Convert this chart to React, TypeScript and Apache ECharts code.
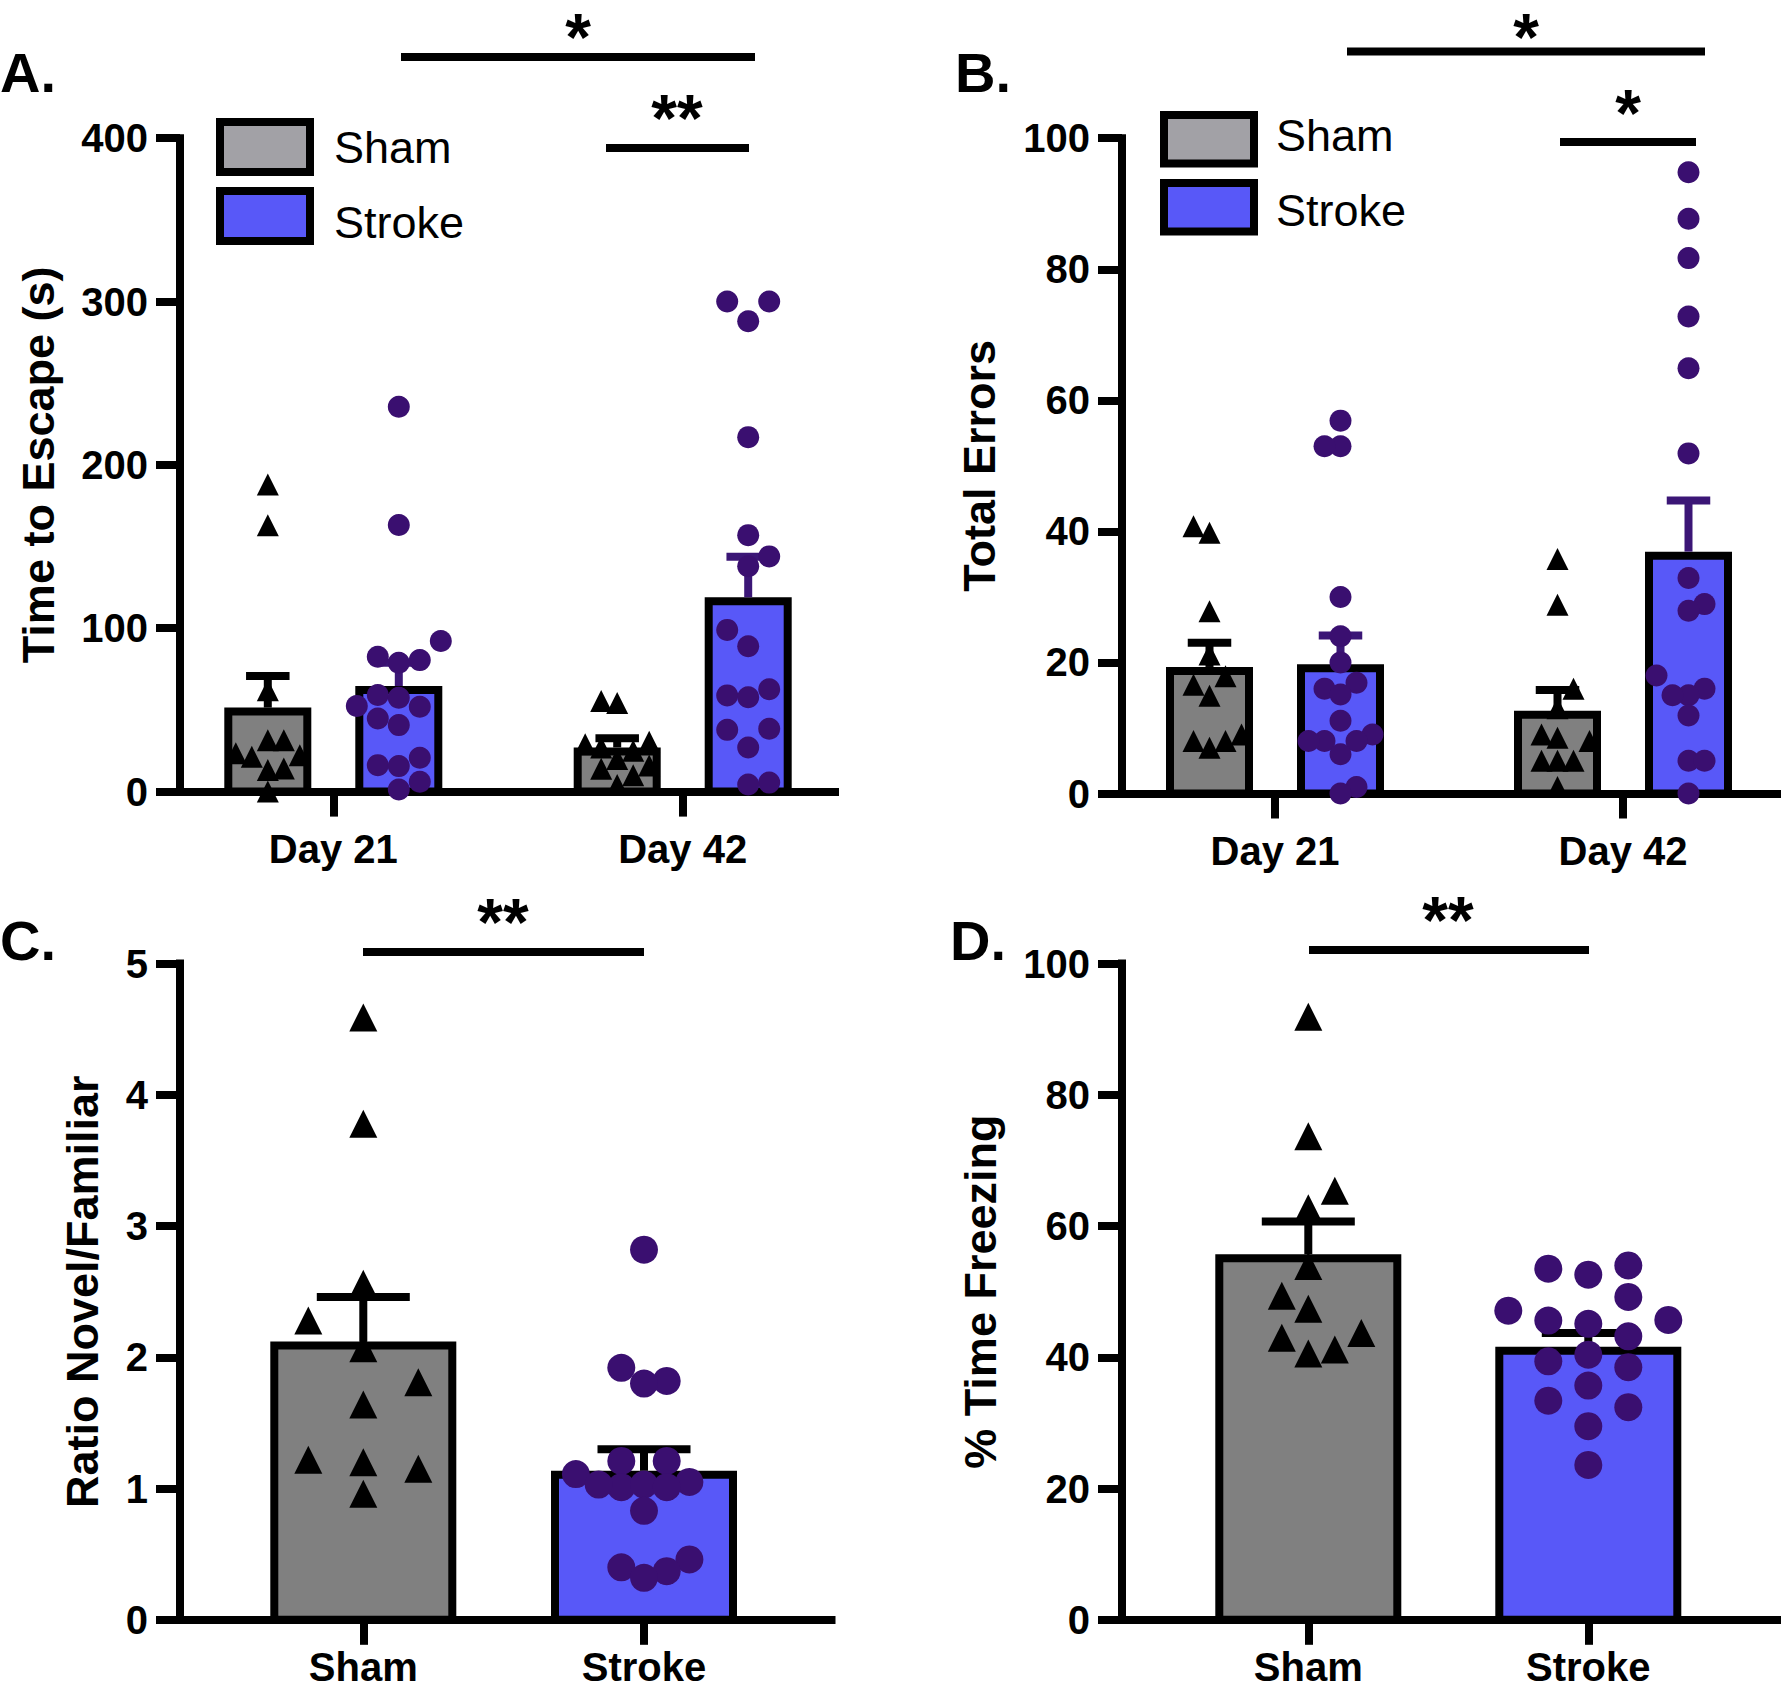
import React, { useEffect, useRef } from "react";
import * as echarts from "echarts";

// ---------------- DATA ----------------
const dayCategories = ["Day 21", "Day 42"];
const groupCategories = ["Sham", "Stroke"];

// Panel A: Time to Escape (s)
const escapeTicksMax = 400;
const escapeShamMean = [49, 24.6];
const escapeShamSem = [21.7, 8];
const escapeStrokeMean = [62.2, 116.5];
const escapeStrokeSem = [16.7, 27.2];
const escapeShamDay21 = [188, 163, 62, 31.5, 31.5, 21.3, 23.5, 22.3, 14.2, 13.2, 0];
const escapeStrokeDay21 = [235.6, 163.2, 92.2, 82.5, 78.9, 80.5, 59.1, 57.4, 52.4, 51.9, 44.8, 40.7, 20.7, 16.2, 15.6, 6.0, 1.3];
const escapeShamDay42 = [55.5, 54.2, 30.5, 29, 27, 25, 20, 16, 14, 10, 4];
const escapeStrokeDay42 = [300, 300, 288, 217, 157, 144, 138, 99, 89, 62.7, 58.9, 57.8, 38.5, 37.8, 27, 5.5, 4.3];

// Panel B: Total Errors
const errorsTicksMax = 100;
const errorsShamMean = [18.7, 12.0];
const errorsShamSem = [4.3, 3.8];
const errorsStrokeMean = [19.1, 36.3];
const errorsStrokeSem = [5.0, 8.4];
const errorsShamDay21 = [40.8, 39.8, 27.8, 21.2, 17.9, 16.6, 14.9, 9, 8, 8, 7];
const errorsStrokeDay21 = [56.9, 53, 53, 30, 24, 20, 16.9, 16, 15.1, 11.1, 9, 8, 8, 8, 6, 1, 0];
const errorsShamDay42 = [35.8, 28.8, 16, 13, 9, 8.5, 8, 5, 5, 5, 1];
const errorsStrokeDay42 = [94.8, 87.7, 81.7, 72.8, 64.9, 51.9, 32.9, 28.9, 27.9, 18, 16, 15, 15, 11.9, 5, 5, 0];

// Panel C: Ratio Novel/Familiar
const ratioTicksMax = 5;
const ratioMean = [2.09, 1.105];
const ratioSem = [0.37, 0.195];
const ratioSham = [4.59, 3.78, 2.56, 2.28, 2.07, 1.81, 1.64, 1.22, 1.2, 1.15, 0.96];
const ratioStroke = [2.82, 1.92, 1.82, 1.8, 1.21, 1.21, 1.11, 1.01, 1.03, 1.05, 1.03, 1.01, 0.83, 0.46, 0.37, 0.4, 0.32];

// Panel D: % Time Freezing
const freezeTicksMax = 100;
const freezeMean = [55.1, 41.0];
const freezeSem = [5.6, 2.7];
const freezeSham = [91.9, 73.7, 65.4, 62.7, 53.9, 49.4, 47.4, 43.7, 43.0, 41.2, 40.6];
const freezeStroke = [52.6, 53.5, 54.0, 49.2, 47.1, 45.1, 45.6, 45.7, 43.2, 40.4, 39.4, 38.5, 35.7, 33.4, 32.4, 29.5, 23.6];

// ---------------- STYLE ----------------
const FONT = '"Liberation Sans", Arial, Helvetica, sans-serif';
const SHAM_FILL = "#808080";
const SHAM_LEGEND_FILL = "#a2a1a6";
const STROKE_FILL = "#5858f8";
const PURPLE = "#3a0f70";
const PURPLE_ERR = "#3b1676";
const LW = 8;
const STAR_SIZE = 66;

// column-scatter jitter (pixel offsets) computed from the values
function slotJitter(values: number[], pxPerUnit: number, slot: number, gap: number): number[] {
  const order = values.map((_, i) => i).sort((a, b) => values[a] - values[b]);
  const placed: { s: number; y: number }[] = [];
  const out = new Array(values.length).fill(0);
  for (const i of order) {
    const y = values[i] * pxPerUnit;
    const pos = placed.filter((p) => p.s > 0).length;
    const neg = placed.filter((p) => p.s < 0).length;
    const cands: number[] = [0];
    for (let k = 1; k <= 5; k++) {
      if (pos <= neg) cands.push(k, -k);
      else cands.push(-k, k);
    }
    let chosen = 0;
    let best = -1;
    for (const c of cands) {
      let minD = Infinity;
      for (const p of placed) if (p.s === c) minD = Math.min(minD, Math.abs(p.y - y));
      if (minD >= gap) {
        chosen = c;
        best = Infinity;
        break;
      }
      if (minD > best) {
        best = minD;
        chosen = c;
      }
    }
    placed.push({ s: chosen, y });
    out[i] = chosen * slot;
  }
  return out;
}

type Panel = {
  left: number;
  top: number;
  width: number;
  height: number;
  firstTick: number;
  spacing: number;
  yMax: number;
  interval: number;
  labels: string[];
  name: string;
  nameGap: number;
  labelMargin: number;
};

const panels: Panel[] = [
  { left: 180, top: 138.2, width: 655, height: 653.4, firstTick: 333.3, spacing: 349.4, yMax: escapeTicksMax, interval: 100, labels: dayCategories, name: "Time to Escape (s)", nameGap: 119, labelMargin: 37 },
  { left: 1122, top: 138.2, width: 659, height: 655.3, firstTick: 1275, spacing: 348, yMax: errorsTicksMax, interval: 20, labels: dayCategories, name: "Total Errors", nameGap: 120, labelMargin: 37 },
  { left: 180, top: 963.6, width: 651.5, height: 656.2, firstTick: 363.3, spacing: 280.7, yMax: ratioTicksMax, interval: 1, labels: groupCategories, name: "Ratio Novel/Familiar", nameGap: 75, labelMargin: 27 },
  { left: 1122, top: 963.6, width: 659, height: 656.2, firstTick: 1308.3, spacing: 280, yMax: freezeTicksMax, interval: 20, labels: groupCategories, name: "% Time Freezing", nameGap: 119, labelMargin: 27 },
];

function barSeries(name: string, gi: number, cats: number[], means: number[], sems: number[], offset: number, width: number, fill: string, errColor: string) {
  return {
    type: "custom",
    name,
    xAxisIndex: gi,
    yAxisIndex: gi,
    z: 2,
    data: means.map((m, i) => [cats[i], m, sems[i]]),
    renderItem: (_p: any, api: any) => {
      const x = api.value(0);
      const base = api.coord([x, 0]);
      const top = api.coord([x, api.value(1)]);
      const err = api.coord([x, api.value(1) + api.value(2)]);
      const cx = base[0] + offset;
      const capW = (width + LW) / 2;
      return {
        type: "group",
        children: [
          { type: "rect", shape: { x: cx - width / 2, y: top[1], width, height: base[1] - top[1] }, style: { fill, stroke: "#000", lineWidth: LW } },
          { type: "line", shape: { x1: cx, y1: top[1] - LW / 2, x2: cx, y2: err[1] }, style: { stroke: errColor, lineWidth: LW } },
          { type: "line", shape: { x1: cx - capW / 2, y1: err[1], x2: cx + capW / 2, y2: err[1] }, style: { stroke: errColor, lineWidth: LW } },
        ],
      };
    },
  };
}

function pointSeries(name: string, gi: number, cats: number[], groups: number[][], offset: number, shape: "triangle" | "circle", size: number, color: string, slot: number, gap: number) {
  const p = panels[gi];
  const ppu = p.height / p.yMax;
  const data: number[][] = [];
  groups.forEach((vals, k) => {
    const jit = slotJitter(vals, ppu, slot, gap);
    vals.forEach((v, j) => data.push([cats[k], v, jit[j]]));
  });
  return {
    type: "custom",
    name,
    xAxisIndex: gi,
    yAxisIndex: gi,
    z: 5,
    data,
    renderItem: (_p: any, api: any) => {
      const c = api.coord([api.value(0), api.value(1)]);
      const cx = c[0] + offset + api.value(2);
      const cy = c[1];
      const h = size / 2;
      if (shape === "triangle") {
        return { type: "polygon", shape: { points: [[cx, cy - h], [cx + h, cy + h], [cx - h, cy + h]] }, style: { fill: color } };
      }
      return { type: "circle", shape: { cx, cy, r: h }, style: { fill: color } };
    },
  };
}

function sigLine(x1: number, x2: number, y: number) {
  return { type: "line", shape: { x1, y1: y, x2, y2: y }, style: { stroke: "#000", lineWidth: LW } };
}
function stars(text: string, cx: number, cy: number) {
  return { type: "text", x: cx, y: cy + 0.105 * STAR_SIZE, style: { text, fill: "#000", font: `bold ${STAR_SIZE}px ${FONT}`, align: "center", verticalAlign: "middle" } };
}
function panelLetter(text: string, x: number, cy: number) {
  return { type: "text", x, y: cy, style: { text, fill: "#000", font: `bold 56px ${FONT}`, align: "left", verticalAlign: "middle" } };
}
function legendItems(x: number, y1: number, y2: number, h: number, tx: number, t1: number, t2: number) {
  return [
    { type: "rect", shape: { x, y: y1, width: 90, height: h }, style: { fill: SHAM_LEGEND_FILL, stroke: "#000", lineWidth: LW } },
    { type: "rect", shape: { x, y: y2, width: 90, height: h }, style: { fill: STROKE_FILL, stroke: "#000", lineWidth: LW } },
    { type: "text", x: tx, y: t1, style: { text: "Sham", fill: "#000", font: `45px ${FONT}`, align: "left", verticalAlign: "middle" } },
    { type: "text", x: tx, y: t2, style: { text: "Stroke", fill: "#000", font: `45px ${FONT}`, align: "left", verticalAlign: "middle" } },
  ];
}

export default function App() {
  const ref = useRef<HTMLDivElement>(null);
  useEffect(() => {
    if (!ref.current) return;
    const chart = echarts.init(ref.current, null, { renderer: "svg" });
    const axisLineStyle = { color: "#000", width: LW, cap: "square" };
    const grid = panels.map((p) => ({ left: p.left, top: p.top, width: p.width, height: p.height, containLabel: false, outerBoundsMode: "none" }));
    const xAxis = panels.map((p, gi) => ({
      type: "value",
      gridIndex: gi,
      min: -(p.firstTick - p.left) / p.spacing,
      max: (p.left + p.width - p.firstTick) / p.spacing,
      splitLine: { show: false },
      axisLine: { show: true, onZero: false, lineStyle: axisLineStyle },
      axisTick: { show: true, customValues: [0, 1], length: 25, lineStyle: { color: "#000", width: LW } },
      axisLabel: {
        show: true,
        customValues: [0, 1],
        formatter: (v: number) => p.labels[Math.round(v)] ?? "",
        color: "#000",
        fontSize: 40,
        fontWeight: "bold",
        fontFamily: FONT,
        margin: p.labelMargin,
      },
    }));
    const yAxis = panels.map((p, gi) => ({
      type: "value",
      gridIndex: gi,
      min: 0,
      max: p.yMax,
      interval: p.interval,
      splitLine: { show: false },
      axisLine: { show: true, onZero: false, lineStyle: axisLineStyle },
      axisTick: { show: true, length: 24, lineStyle: { color: "#000", width: LW } },
      axisLabel: { color: "#000", fontSize: 40, fontWeight: "bold", fontFamily: FONT, margin: 32 },
      name: p.name,
      nameLocation: "middle",
      nameGap: p.nameGap,
      nameRotate: 90,
      nameTextStyle: { color: "#000", fontSize: 45, fontWeight: "bold", fontFamily: FONT },
    }));

    const GO = 65.5; // group offset px for grouped bars
    const series: any[] = [
      // Panel A
      barSeries("Sham", 0, [0, 1], escapeShamMean, escapeShamSem, -GO, 79, SHAM_FILL, "#000"),
      barSeries("Stroke", 0, [0, 1], escapeStrokeMean, escapeStrokeSem, GO, 79, STROKE_FILL, PURPLE_ERR),
      pointSeries("Sham", 0, [0, 1], [escapeShamDay21, escapeShamDay42], -GO, "triangle", 22, "#000", 16, 20),
      pointSeries("Stroke", 0, [0, 1], [escapeStrokeDay21, escapeStrokeDay42], GO, "circle", 22, PURPLE, 21, 22),
      // Panel B
      barSeries("Sham", 1, [0, 1], errorsShamMean, errorsShamSem, -GO, 79, SHAM_FILL, "#000"),
      barSeries("Stroke", 1, [0, 1], errorsStrokeMean, errorsStrokeSem, GO, 79, STROKE_FILL, PURPLE_ERR),
      pointSeries("Sham", 1, [0, 1], [errorsShamDay21, errorsShamDay42], -GO, "triangle", 22, "#000", 16, 20),
      pointSeries("Stroke", 1, [0, 1], [errorsStrokeDay21, errorsStrokeDay42], GO, "circle", 22, PURPLE, 16, 20),
      // Panel C
      barSeries("Sham", 2, [0], [ratioMean[0]], [ratioSem[0]], 0, 178, SHAM_FILL, "#000"),
      barSeries("Stroke", 2, [1], [ratioMean[1]], [ratioSem[1]], 0, 178, STROKE_FILL, "#000"),
      pointSeries("Sham", 2, [0], [ratioSham], 0, "triangle", 28, "#000", 55, 28),
      pointSeries("Stroke", 2, [1], [ratioStroke], 0, "circle", 28, PURPLE, 22.7, 26),
      // Panel D
      barSeries("Sham", 3, [0], [freezeMean[0]], [freezeSem[0]], 0, 178, SHAM_FILL, "#000"),
      barSeries("Stroke", 3, [1], [freezeMean[1]], [freezeSem[1]], 0, 178, STROKE_FILL, "#000"),
      pointSeries("Sham", 3, [0], [freezeSham], 0, "triangle", 28, "#000", 26.5, 28),
      pointSeries("Stroke", 3, [1], [freezeStroke], 0, "circle", 28, PURPLE, 40, 30),
    ];

    const graphic: any[] = [
      panelLetter("A.", 0, 72),
      panelLetter("B.", 955, 72),
      panelLetter("C.", 0, 940),
      panelLetter("D.", 950, 940),
      sigLine(401, 755, 57),
      stars("*", 578, 30),
      sigLine(606, 749, 148),
      stars("**", 677, 111),
      sigLine(1347, 1705, 51.5),
      stars("*", 1526, 30),
      sigLine(1560, 1696, 142),
      stars("*", 1628, 105.7),
      sigLine(363, 644, 952),
      stars("**", 503, 915.5),
      sigLine(1309, 1589, 950),
      stars("**", 1448, 913.5),
      ...legendItems(220, 122, 191, 50, 334, 147.5, 222),
      ...legendItems(1164, 115, 183, 48.5, 1276, 135.5, 210),
    ];

    chart.setOption({
      animation: false,
      backgroundColor: "#fff",
      textStyle: { fontFamily: FONT },
      grid,
      xAxis,
      yAxis,
      series,
      graphic,
    });
    return () => chart.dispose();
  }, []);
  return <div ref={ref} style={{ position: "absolute", left: 0, top: 0, width: 1781, height: 1690 }} />;
}
